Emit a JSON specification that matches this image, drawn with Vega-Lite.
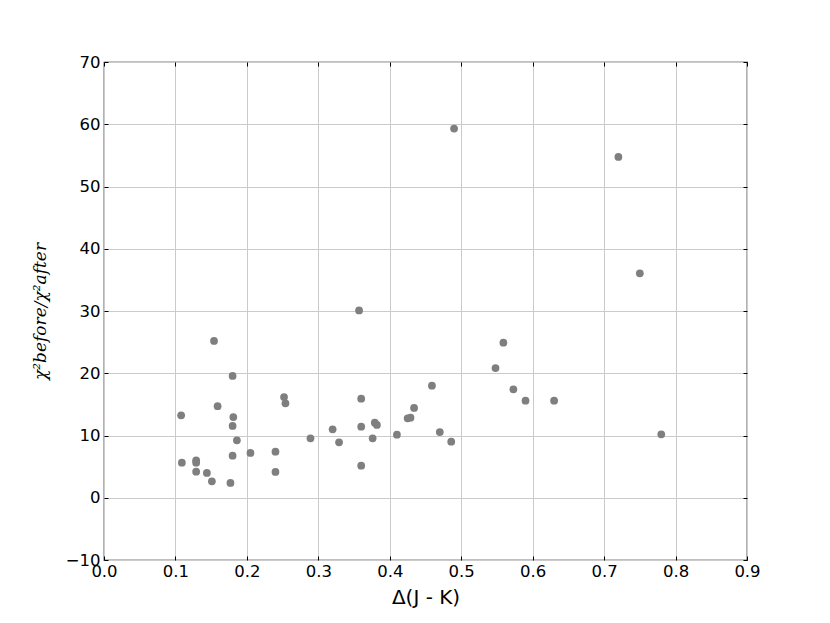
{
  "$schema": "https://vega.github.io/schema/vega-lite/v6.json",
  "autosize": {"type": "none"},
  "width": 643,
  "height": 498,
  "padding": {"left": 104, "top": 62, "right": 83, "bottom": 63},
  "background": "white",
  "config": {
    "view": {"stroke": "black", "strokeWidth": 1.2},
    "axis": {"labelFont": "DejaVu Sans", "titleFont": "DejaVu Sans", "labelColor": "black", "titleColor": "black", "gridColor": "#cbcbcb", "gridWidth": 1, "tickColor": "black", "domainColor": "black"}
  },
  "data": {"values": [
    {"djk": 0.108, "ratio": 13.25},
    {"djk": 0.109, "ratio": 5.63},
    {"djk": 0.129, "ratio": 6.02},
    {"djk": 0.129, "ratio": 5.63},
    {"djk": 0.129, "ratio": 4.18},
    {"djk": 0.144, "ratio": 3.98},
    {"djk": 0.151, "ratio": 2.64},
    {"djk": 0.154, "ratio": 25.2},
    {"djk": 0.159, "ratio": 14.7},
    {"djk": 0.177, "ratio": 2.37},
    {"djk": 0.180, "ratio": 19.56},
    {"djk": 0.181, "ratio": 12.97},
    {"djk": 0.180, "ratio": 11.53},
    {"djk": 0.180, "ratio": 6.76},
    {"djk": 0.186, "ratio": 9.23},
    {"djk": 0.205, "ratio": 7.19},
    {"djk": 0.240, "ratio": 7.40},
    {"djk": 0.240, "ratio": 4.14},
    {"djk": 0.252, "ratio": 16.18},
    {"djk": 0.254, "ratio": 15.17},
    {"djk": 0.289, "ratio": 9.55},
    {"djk": 0.320, "ratio": 11.0},
    {"djk": 0.329, "ratio": 8.91},
    {"djk": 0.357, "ratio": 30.1},
    {"djk": 0.360, "ratio": 15.91},
    {"djk": 0.360, "ratio": 11.41},
    {"djk": 0.360, "ratio": 5.15},
    {"djk": 0.376, "ratio": 9.55},
    {"djk": 0.379, "ratio": 12.06},
    {"djk": 0.382, "ratio": 11.69},
    {"djk": 0.410, "ratio": 10.13},
    {"djk": 0.425, "ratio": 12.76},
    {"djk": 0.429, "ratio": 12.86},
    {"djk": 0.434, "ratio": 14.42},
    {"djk": 0.459, "ratio": 18.0},
    {"djk": 0.470, "ratio": 10.56},
    {"djk": 0.486, "ratio": 9.0},
    {"djk": 0.490, "ratio": 59.3},
    {"djk": 0.548, "ratio": 20.84},
    {"djk": 0.559, "ratio": 24.9},
    {"djk": 0.573, "ratio": 17.42},
    {"djk": 0.590, "ratio": 15.59},
    {"djk": 0.630, "ratio": 15.59},
    {"djk": 0.720, "ratio": 54.74},
    {"djk": 0.750, "ratio": 36.06},
    {"djk": 0.780, "ratio": 10.19}
  ]},
  "layer": [
    {
      "mark": {"type": "circle", "size": 60, "color": "#7f7f7f", "opacity": 1},
      "encoding": {
        "x": {"field": "djk", "type": "quantitative",
          "scale": {"domain": [0, 0.9], "nice": false, "zero": false},
          "axis": {"orient": "bottom", "title": "Δ(J - K)", "titleFontSize": 20, "titleFontWeight": "normal", "titlePadding": 8,
            "values": [0, 0.1, 0.2, 0.3, 0.4, 0.5, 0.6, 0.7, 0.8, 0.9], "format": ".1f",
            "labelFontSize": 16.5, "labelPadding": 7, "tickSize": -4, "labelFlush": false, "labelOverlap": false,
            "domain": false, "grid": true}},
        "y": {"field": "ratio", "type": "quantitative",
          "scale": {"domain": [-10, 70], "nice": false, "zero": false},
          "axis": {"orient": "left", "title": "χ²before/χ²after", "titleFont": "DejaVu Serif", "titleFontStyle": "italic", "titleFontSize": 17, "titleFontWeight": "normal", "titlePadding": 16,
            "values": [-10, 0, 10, 20, 30, 40, 50, 60, 70], "format": "d",
            "labelFontSize": 16.5, "labelPadding": 8, "tickSize": -4, "labelFlush": false, "labelOverlap": false,
            "domain": false, "grid": true}}
      }
    },
    {
      "mark": {"type": "circle", "opacity": 0},
      "encoding": {
        "x": {"field": "djk", "type": "quantitative",
          "axis": {"orient": "top", "title": null, "labels": false, "values": [0, 0.1, 0.2, 0.3, 0.4, 0.5, 0.6, 0.7, 0.8, 0.9], "tickSize": -4, "domain": false, "grid": false}},
        "y": {"field": "ratio", "type": "quantitative",
          "axis": {"orient": "right", "title": null, "labels": false, "values": [-10, 0, 10, 20, 30, 40, 50, 60, 70], "tickSize": -4, "domain": false, "grid": false}}
      }
    }
  ],
  "resolve": {"axis": {"x": "independent", "y": "independent"}}
}
